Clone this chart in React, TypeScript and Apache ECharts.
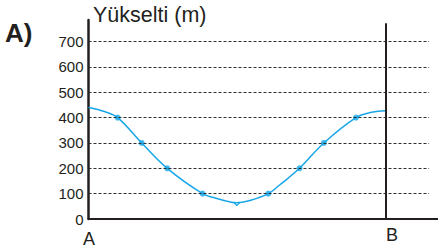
import React, { useEffect, useRef } from "react";
import * as echarts from "echarts";

// distance along profile: A = 0, B = 100 (arbitrary units)
const curveX = [0, 5.6, 9.8, 17.9, 26.5, 38.4, 42.6, 48.1, 49.8, 54.3, 60.5, 64.4, 71.0, 79.2, 90.0, 95.3, 100];
const curveY = [440, 423, 400, 300, 200, 100, 83, 66, 64, 73, 100, 135, 200, 300, 400, 421, 427];
const dotX = [9.8, 17.9, 26.5, 38.4, 60.5, 71.0, 79.2, 90.0];
const dotY = [400, 300, 200, 100, 100, 200, 300, 400];
const notchX = [48.9, 49.9, 51.0];
const notchY = [66, 53, 66];
const gridValues = [100, 200, 300, 400, 500, 600, 700];
const yTicks = [0, 100, 200, 300, 400, 500, 600, 700];
const pointB = 100;
const yTitle = "Yükselti (m)";
const panelLabel = "A)";

const FONT = "'Liberation Sans', Arial, sans-serif";
const BLUE = "#18a6e8";
const INK = "#231f20";

export default function App() {
  const ref = useRef<HTMLDivElement>(null);
  useEffect(() => {
    if (!ref.current) return;
    const chart = echarts.init(ref.current, null, { renderer: "svg" });
    const dashEnd = 114.6;
    chart.setOption({
      animation: false,
      grid: { left: 88.5, right: 0, top: 20, bottom: 32 },
      xAxis: {
        type: "value",
        min: 0,
        max: 117.6,
        interval: 100,
        axisLine: { show: true, lineStyle: { color: INK, width: 2 } },
        axisTick: { show: false },
        axisLabel: { show: false },
        splitLine: { show: false },
      },
      yAxis: {
        type: "value",
        min: 0,
        max: 785,
        interval: 100,
        axisLine: { show: true, lineStyle: { color: INK, width: 2.5 } },
        axisTick: { show: false },
        splitLine: { show: false },
        axisLabel: {
          color: INK,
          fontSize: 15,
          fontFamily: FONT,
          margin: 5,
          showMaxLabel: false,
          formatter: (v: number) => (yTicks.includes(v) ? String(v) : ""),
        },
      },
      series: [
        {
          type: "line",
          data: [],
          silent: true,
          markLine: {
            symbol: "none",
            silent: true,
            label: { show: false },
            lineStyle: { color: "#2e2e2e", width: 1, type: [3, 2] },
            data: gridValues.map((v) => [
              { coord: [0, v] },
              { coord: [dashEnd, v] },
            ]),
          },
        },
        {
          type: "line",
          data: [],
          silent: true,
          markLine: {
            symbol: "none",
            silent: true,
            label: { show: false },
            lineStyle: { color: INK, width: 2, type: "solid" },
            data: [[{ coord: [pointB, 0] }, { coord: [pointB, 772] }]],
          },
        },
        {
          type: "line",
          smooth: 0.4,
          symbol: "none",
          lineStyle: { color: BLUE, width: 1.5 },
          data: curveX.map((x, i) => [x, curveY[i]]),
        },
        {
          type: "line",
          symbol: "none",
          lineStyle: { color: BLUE, width: 1.2 },
          data: notchX.map((x, i) => [x, notchY[i]]),
        },
        {
          type: "scatter",
          symbolSize: 6,
          itemStyle: { color: BLUE },
          data: dotX.map((x, i) => [x, dotY[i]]),
        },
      ],
      graphic: [
        {
          type: "text",
          x: 93,
          y: 14.5,
          style: { text: yTitle, fontSize: 21.5, fontFamily: FONT, fill: INK, textAlign: "left", textVerticalAlign: "middle" },
        },
        {
          type: "text",
          x: 5,
          y: 33,
          style: { text: panelLabel, fontSize: 26, fontWeight: "bold", fontFamily: FONT, fill: INK, textAlign: "left", textVerticalAlign: "middle" },
        },
        {
          type: "text",
          x: 89,
          y: 238.5,
          style: { text: "A", fontSize: 18, fontFamily: FONT, fill: INK, textAlign: "center", textVerticalAlign: "middle" },
        },
        {
          type: "text",
          x: 392,
          y: 235,
          style: { text: "B", fontSize: 18, fontFamily: FONT, fill: INK, textAlign: "center", textVerticalAlign: "middle" },
        },
      ],
    });
    return () => chart.dispose();
  }, []);
  return <div ref={ref} style={{ width: 438, height: 251, position: "absolute", left: 0, top: 0 }} />;
}
